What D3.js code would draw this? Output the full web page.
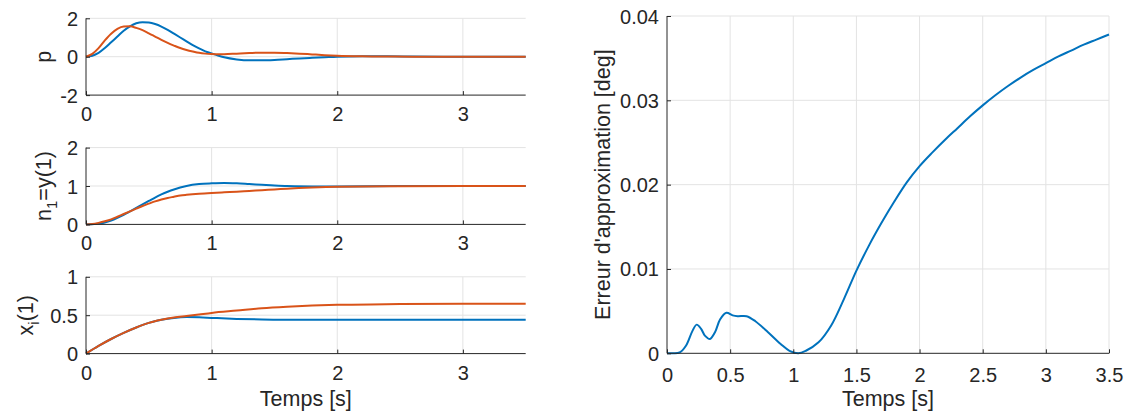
<!DOCTYPE html>
<html>
<head>
<meta charset="utf-8">
<script src="https://cdn.jsdelivr.net/npm/d3@7"></script>
<style>
  html, body { margin: 0; padding: 0; background: #fff; }
  svg { display: block; }
  text { font-family: "Liberation Sans", Arial, Helvetica, sans-serif; fill: #262626; }
</style>
</head>
<body>
<svg id="chart" width="1125" height="418"></svg>
<script>
// ---------------- DATA ----------------
const tP = [0,0.05,0.1,0.15,0.2,0.25,0.3,0.35,0.4,0.45,0.5,0.55,0.6,0.65,0.7,0.75,0.8,0.85,0.9,0.95,1.0,1.05,1.1,1.2,1.3,1.4,1.5,1.6,1.7,1.8,1.9,2.0,2.2,2.4,2.6,3.0,3.5];
const pBlue = [0,0.05,0.2,0.45,0.75,1.05,1.35,1.58,1.74,1.8,1.78,1.7,1.57,1.4,1.2,1.0,0.8,0.6,0.43,0.28,0.17,0.06,-0.03,-0.14,-0.19,-0.19,-0.17,-0.13,-0.09,-0.06,-0.03,0.0,0.02,0.02,0.01,0,0];
const pOrange = [0,0.15,0.45,0.85,1.2,1.45,1.57,1.58,1.5,1.38,1.22,1.05,0.88,0.72,0.58,0.45,0.35,0.27,0.2,0.16,0.14,0.13,0.13,0.16,0.19,0.21,0.21,0.19,0.16,0.12,0.08,0.05,0.02,0.01,0,0,0];

const tN = [0,0.05,0.1,0.15,0.2,0.25,0.3,0.35,0.4,0.45,0.5,0.55,0.6,0.65,0.7,0.75,0.8,0.9,1.0,1.1,1.2,1.3,1.4,1.5,1.6,1.8,2.0,2.5,3.0,3.5];
const nBlue = [0,0.005,0.02,0.05,0.1,0.17,0.25,0.34,0.43,0.52,0.61,0.7,0.78,0.85,0.91,0.96,1.0,1.05,1.07,1.08,1.07,1.05,1.03,1.01,1.0,0.99,0.99,1.0,1.0,1.0];
const nOrange = [0,0.01,0.04,0.08,0.13,0.2,0.27,0.34,0.41,0.48,0.54,0.6,0.65,0.69,0.72,0.75,0.77,0.8,0.82,0.835,0.85,0.87,0.89,0.91,0.93,0.96,0.98,0.995,1.0,1.0];

const tX = [0,0.1,0.2,0.3,0.4,0.5,0.6,0.7,0.8,0.9,1.0,1.2,1.4,1.6,1.8,2.0,2.5,3.0,3.5];
const xBlue = [0,0.1,0.19,0.27,0.34,0.4,0.44,0.465,0.475,0.472,0.465,0.452,0.444,0.441,0.44,0.44,0.44,0.44,0.44];
const xOrange = [0,0.1,0.19,0.27,0.34,0.4,0.44,0.47,0.49,0.51,0.53,0.56,0.59,0.61,0.625,0.635,0.645,0.65,0.65];

const tE = [0,0.05,0.1,0.15,0.2,0.235,0.27,0.3,0.34,0.38,0.42,0.47,0.52,0.56,0.63,0.7,0.8,0.9,0.97,1.04,1.1,1.2,1.3,1.4,1.5,1.6,1.7,1.8,1.9,2.0,2.1,2.2,2.3,2.4,2.5,2.6,2.7,2.8,2.9,3.0,3.1,3.2,3.3,3.4,3.5];
const errVals = [0,0,0.0001,0.0009,0.0026,0.0034,0.0029,0.0021,0.0017,0.0025,0.0040,0.0048,0.0045,0.0044,0.0044,0.0038,0.0025,0.0011,0.0003,0.0,0.0003,0.0013,0.0033,0.0064,0.0098,0.0128,0.0155,0.0180,0.0203,0.0222,0.0238,0.0253,0.0267,0.0281,0.0294,0.0306,0.0317,0.0327,0.0336,0.0344,0.0352,0.0359,0.0366,0.0372,0.0378];

const xTicksLeft = [0,1,2,3];
const yTicksP = [-2,0,2];
const yTicksN = [0,1,2];
const yTicksX = [0,0.5,1];
const xTicksRight = [0,0.5,1,1.5,2,2.5,3,3.5];
const yTicksRight = [0,0.01,0.02,0.03,0.04];

const BLUE = "#0072BD", ORANGE = "#D95319";
const AXC = "#262626", GRIDC = "#e3e3e3";

const svg = d3.select("#chart");
svg.append("rect").attr("width",1125).attr("height",418).attr("fill","#fff");

function fmt(v){ return String(v); }

function panel(opts){
  const {x0,x1,y0,y1,xDomain,yDomain,xTicks,yTicks,series,xLabelOffset,tickFont,curve} = opts;
  const g = svg.append("g");
  const xs = d3.scaleLinear().domain(xDomain).range([x0,x1]);
  const ys = d3.scaleLinear().domain(yDomain).range([y1,y0]);
  g.selectAll(".vg").data(xTicks.filter(d=>d!==xDomain[0])).enter().append("line")
    .attr("x1",d=>xs(d)).attr("x2",d=>xs(d)).attr("y1",y0).attr("y2",y1)
    .attr("stroke",GRIDC).attr("stroke-width",1);
  g.selectAll(".hg").data(yTicks.filter(d=>d!==yDomain[0])).enter().append("line")
    .attr("x1",x0).attr("x2",x1).attr("y1",d=>ys(d)).attr("y2",d=>ys(d))
    .attr("stroke",GRIDC).attr("stroke-width",1);
  const line = d3.line().x(d=>xs(d[0])).y(d=>ys(d[1])).curve(curve || d3.curveMonotoneX);
  series.forEach(s=>{
    const pts = s.t.map((t,i)=>[t,s.v[i]]);
    g.append("path").attr("d",line(pts)).attr("fill","none")
      .attr("stroke",s.color).attr("stroke-width",2).attr("stroke-linejoin","round");
  });
  const xAxis = d3.axisBottom(xs).tickValues(xTicks).tickSize(-4).tickPadding(0).tickFormat(fmt);
  const yAxis = d3.axisLeft(ys).tickValues(yTicks).tickSize(-4).tickPadding(0).tickFormat(fmt);
  const gx = g.append("g").attr("transform",`translate(0,${y1})`).call(xAxis);
  const gy = g.append("g").attr("transform",`translate(${x0},0)`).call(yAxis);
  [gx,gy].forEach(a=>{
    a.select(".domain").attr("stroke",AXC).attr("stroke-width",1);
    a.selectAll(".tick line").attr("stroke",AXC).attr("stroke-width",1);
    a.selectAll(".tick text").attr("fill",AXC).style("font-size",tickFont+"px")
      .style("font-family",'"Liberation Sans", Arial, sans-serif');
  });
  gx.select(".domain").attr("d",`M${x0},0H${x1}`);
  gy.select(".domain").attr("d",`M0,${y0}V${y1}`);
  gx.selectAll(".tick text").attr("y",xLabelOffset).attr("dy",0);
  gy.selectAll(".tick text").attr("x",-8).attr("dy","0.35em");
  return {xs,ys};
}

const LX0 = 86, LX1 = 525.7;
const tops = [18.3, 147.6, 276.8];
const H = 76.8;

panel({x0:LX0,x1:LX1,y0:tops[0],y1:tops[0]+H,xDomain:[0,3.5],yDomain:[-2,2],
  xTicks:xTicksLeft,yTicks:yTicksP,xLabelOffset:26,tickFont:20,
  series:[{t:tP,v:pBlue,color:BLUE},{t:tP,v:pOrange,color:ORANGE}]});
panel({x0:LX0,x1:LX1,y0:tops[1],y1:tops[1]+H,xDomain:[0,3.5],yDomain:[0,2],
  xTicks:xTicksLeft,yTicks:yTicksN,xLabelOffset:26,tickFont:20,
  series:[{t:tN,v:nBlue,color:BLUE},{t:tN,v:nOrange,color:ORANGE}]});
panel({x0:LX0,x1:LX1,y0:tops[2],y1:tops[2]+H,xDomain:[0,3.5],yDomain:[0,1],
  xTicks:xTicksLeft,yTicks:yTicksX,xLabelOffset:26,tickFont:20,
  series:[{t:tX,v:xBlue,color:BLUE},{t:tX,v:xOrange,color:ORANGE}]});

panel({x0:667,x1:1109,y0:16,y1:353.3,xDomain:[0,3.5],yDomain:[0,0.04],
  xTicks:xTicksRight,yTicks:yTicksRight,xLabelOffset:29,tickFont:20,
  curve:d3.curveCatmullRom.alpha(0.5),
  series:[{t:tE,v:errVals,color:BLUE}]});

const LF = 21.5;
function xlabel(x,y,txt){
  svg.append("text").attr("x",x).attr("y",y).attr("text-anchor","middle")
    .style("font-size",LF+"px").text(txt);
}
xlabel((LX0+LX1)/2, 406, "Temps [s]");
xlabel((667+1109)/2, 406, "Temps [s]");

function ylabel(x,y,txt){
  svg.append("text").attr("transform",`translate(${x},${y}) rotate(-90)`)
    .attr("text-anchor","middle").style("font-size",LF+"px").text(txt);
}
ylabel(51, tops[0]+H/2, "p");
(function(){
  const t = svg.append("text").attr("transform",`translate(51,${tops[1]+H/2}) rotate(-90)`)
    .attr("text-anchor","middle").style("font-size",LF+"px");
  t.append("tspan").text("n");
  t.append("tspan").attr("dy",6).style("font-size","15px").text("1");
  t.append("tspan").attr("dy",-6).text("=y(1)");
})();
(function(){
  const t = svg.append("text").attr("transform",`translate(33,${tops[2]+H/2}) rotate(-90)`)
    .attr("text-anchor","middle").style("font-size",LF+"px");
  t.append("tspan").text("x");
  t.append("tspan").attr("dy",6).style("font-size","15px").text("i");
  t.append("tspan").attr("dy",-6).text("(1)");
})();
ylabel(610, (16+353.3)/2, "Erreur d'approximation [deg]");
</script>
</body>
</html>
